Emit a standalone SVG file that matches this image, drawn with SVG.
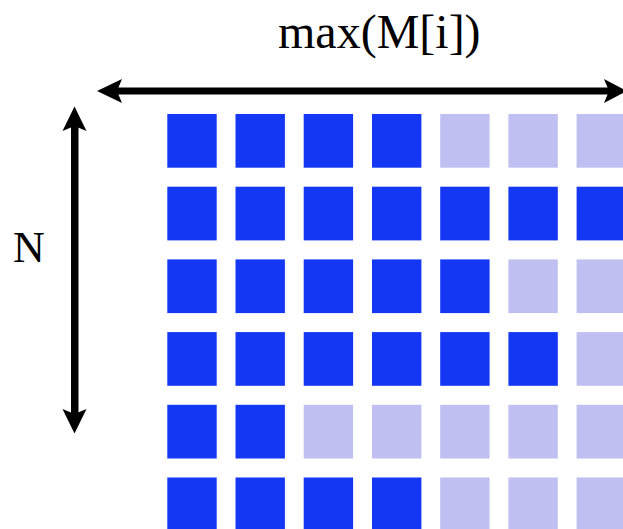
<svg xmlns="http://www.w3.org/2000/svg" width="623" height="529" viewBox="0 0 623 529">
<style>
.d{fill:#1437F3}
.l{fill:#BFBFF2}
.t{font-family:"Liberation Serif","Times New Roman",serif;fill:#000}
.ar{fill:#000}
</style>
<rect width="623" height="529" fill="#fff"/>
<g id="labels">
<text class="t" x="278" y="48" font-size="48">max(M[i])</text>
<text class="t" x="13" y="262" font-size="44">N</text>
</g>
<g id="connectors">
<rect class="ar" x="116" y="87.5" width="494" height="7"/>
<path class="ar" d="M97,91 L122,79 L117,91 L122,103 Z"/>
<path class="ar" d="M627,91 L604,79 L609,91 L604,103 Z"/>
<rect class="ar" x="71" y="126" width="7.5" height="288"/>
<path class="ar" d="M74.5,106.5 L62.5,131 L74.5,126 L86.5,131 Z"/>
<path class="ar" d="M74.5,433.5 L62.5,409 L74.5,414 L86.5,409 Z"/>
</g>
<g id="grid">
<g id="row1">
<rect class="d" x="167.3" y="114" width="49.4" height="53.7"/>
<rect class="d" x="235.5" y="114" width="49.4" height="53.7"/>
<rect class="d" x="303.7" y="114" width="49.4" height="53.7"/>
<rect class="d" x="372" y="114" width="49.4" height="53.7"/>
<rect class="l" x="440.2" y="114" width="49.4" height="53.7"/>
<rect class="l" x="508.4" y="114" width="49.4" height="53.7"/>
<rect class="l" x="576.6" y="114" width="49.4" height="53.7"/>
</g>
<g id="row2">
<rect class="d" x="167.3" y="186.7" width="49.4" height="53.7"/>
<rect class="d" x="235.5" y="186.7" width="49.4" height="53.7"/>
<rect class="d" x="303.7" y="186.7" width="49.4" height="53.7"/>
<rect class="d" x="372" y="186.7" width="49.4" height="53.7"/>
<rect class="d" x="440.2" y="186.7" width="49.4" height="53.7"/>
<rect class="d" x="508.4" y="186.7" width="49.4" height="53.7"/>
<rect class="d" x="576.6" y="186.7" width="49.4" height="53.7"/>
</g>
<g id="row3">
<rect class="d" x="167.3" y="259.4" width="49.4" height="53.7"/>
<rect class="d" x="235.5" y="259.4" width="49.4" height="53.7"/>
<rect class="d" x="303.7" y="259.4" width="49.4" height="53.7"/>
<rect class="d" x="372" y="259.4" width="49.4" height="53.7"/>
<rect class="d" x="440.2" y="259.4" width="49.4" height="53.7"/>
<rect class="l" x="508.4" y="259.4" width="49.4" height="53.7"/>
<rect class="l" x="576.6" y="259.4" width="49.4" height="53.7"/>
</g>
<g id="row4">
<rect class="d" x="167.3" y="332.1" width="49.4" height="53.7"/>
<rect class="d" x="235.5" y="332.1" width="49.4" height="53.7"/>
<rect class="d" x="303.7" y="332.1" width="49.4" height="53.7"/>
<rect class="d" x="372" y="332.1" width="49.4" height="53.7"/>
<rect class="d" x="440.2" y="332.1" width="49.4" height="53.7"/>
<rect class="d" x="508.4" y="332.1" width="49.4" height="53.7"/>
<rect class="l" x="576.6" y="332.1" width="49.4" height="53.7"/>
</g>
<g id="row5">
<rect class="d" x="167.3" y="404.8" width="49.4" height="53.7"/>
<rect class="d" x="235.5" y="404.8" width="49.4" height="53.7"/>
<rect class="l" x="303.7" y="404.8" width="49.4" height="53.7"/>
<rect class="l" x="372" y="404.8" width="49.4" height="53.7"/>
<rect class="l" x="440.2" y="404.8" width="49.4" height="53.7"/>
<rect class="l" x="508.4" y="404.8" width="49.4" height="53.7"/>
<rect class="l" x="576.6" y="404.8" width="49.4" height="53.7"/>
</g>
<g id="row6">
<rect class="d" x="167.3" y="477.5" width="49.4" height="53.7"/>
<rect class="d" x="235.5" y="477.5" width="49.4" height="53.7"/>
<rect class="d" x="303.7" y="477.5" width="49.4" height="53.7"/>
<rect class="d" x="372" y="477.5" width="49.4" height="53.7"/>
<rect class="l" x="440.2" y="477.5" width="49.4" height="53.7"/>
<rect class="l" x="508.4" y="477.5" width="49.4" height="53.7"/>
<rect class="l" x="576.6" y="477.5" width="49.4" height="53.7"/>
</g>
</g>
</svg>
